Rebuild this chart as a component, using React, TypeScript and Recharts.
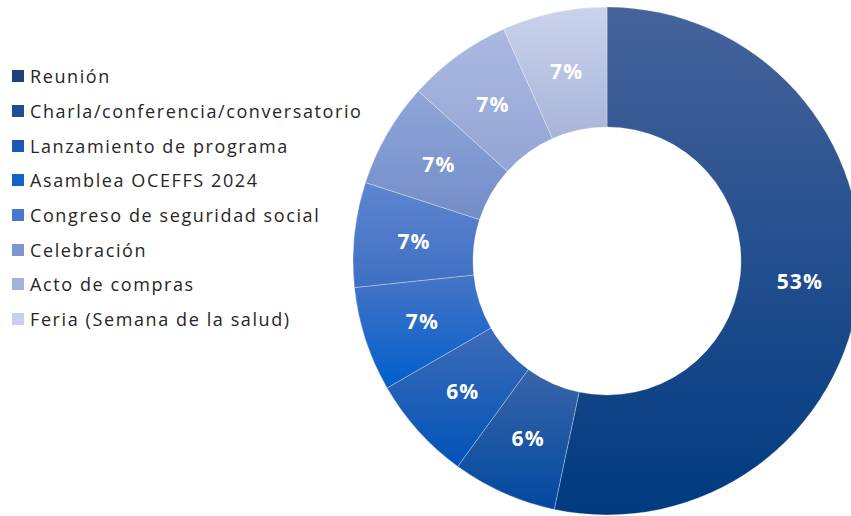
import { PieChart, Pie, Cell, Legend } from "recharts";

const categories = [
  "Reunión",
  "Charla/conferencia/conversatorio",
  "Lanzamiento de programa",
  "Asamblea OCEFFS 2024",
  "Congreso de seguridad social",
  "Celebración",
  "Acto de compras",
  "Feria (Semana de la salud)",
];

// number of events per category (slice sizes) and the percentage text printed on each slice
const counts = [8, 1, 1, 1, 1, 1, 1, 1];
const percentLabels = ["53%", "6%", "6%", "7%", "7%", "7%", "7%", "7%"];

// top / bottom colour of each slice's vertical gradient, and the legend swatch
const topColors = ["#46639b", "#3a64a8", "#3e6bb6", "#4774c6", "#5d86d0", "#8ea6d8", "#abb9e1", "#cad3ec"];
const bottomColors = ["#003a80", "#0049a0", "#0053b8", "#005fcc", "#3f6fc2", "#738dc8", "#93a5d5", "#a8b5da"];
const swatches = ["#1f3f7f", "#1d4c98", "#1a59b2", "#0f63c8", "#4a78cb", "#7d96cf", "#a3b2dc", "#c7d0ea"];

const data = categories.map((name, i) => ({ name, value: counts[i], pct: percentLabels[i] }));

const FONT = "'Open Sans', sans-serif";

function LegendList() {
  return (
    <div style={{ fontFamily: FONT, fontSize: 18, letterSpacing: 1.6, color: "#262626" }}>
      {categories.map((c, i) => (
        <div key={c} style={{ display: "flex", alignItems: "center", height: 34.7 }}>
          <span style={{ width: 12, height: 12, background: swatches[i], marginRight: 6, display: "inline-block" }} />
          <span>{c}</span>
        </div>
      ))}
    </div>
  );
}

const RADIAN = Math.PI / 180;

function renderLabel(props: any) {
  const { cx, cy, midAngle, innerRadius, outerRadius, payload } = props;
  const r = (innerRadius + outerRadius) / 2;
  const x = cx + r * Math.cos(-midAngle * RADIAN);
  const y = cy + r * Math.sin(-midAngle * RADIAN);
  return (
    <text
      x={x}
      y={y}
      fill="#ffffff"
      textAnchor="middle"
      dominantBaseline="central"
      fontFamily={FONT}
      fontWeight={700}
      fontSize={21}
      letterSpacing={1.2}
    >
      {payload.pct}
    </text>
  );
}

export default function App() {
  return (
    <div style={{ position: "absolute", left: 0, top: 0, width: 851, height: 516, background: "#fff", overflow: "hidden" }}>
      <PieChart width={851} height={516} margin={{ top: 0, right: 0, bottom: 0, left: 0 }}>
        <defs>
          {topColors.map((c, i) => (
            <linearGradient key={i} id={`slice${i}`} x1="0" y1="0" x2="0" y2="1">
              <stop offset="0%" stopColor={c} />
              <stop offset="100%" stopColor={bottomColors[i]} />
            </linearGradient>
          ))}
        </defs>
        <Pie
          data={data}
          dataKey="value"
          nameKey="name"
          cx={607}
          cy={261}
          innerRadius={134}
          outerRadius={254}
          startAngle={90}
          endAngle={-270}
          stroke="#ffffff"
          strokeWidth={0.6}
          strokeOpacity={0.5}
          label={renderLabel}
          labelLine={false}
          isAnimationActive={false}
        >
          {data.map((d, i) => (
            <Cell key={d.name} fill={`url(#slice${i})`} />
          ))}
        </Pie>
        <Legend
          content={<LegendList />}
          wrapperStyle={{ position: "absolute", left: 12, top: 59, width: 380 }}
        />
      </PieChart>
    </div>
  );
}
